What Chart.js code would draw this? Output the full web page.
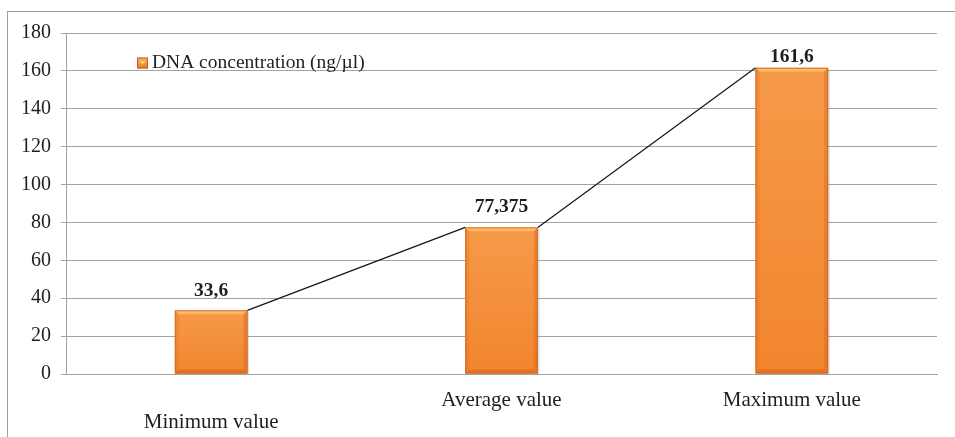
<!DOCTYPE html>
<html>
<head>
<meta charset="utf-8">
<title>DNA concentration</title>
<script src="https://cdn.jsdelivr.net/npm/chart.js@4.4.1/dist/chart.umd.min.js"></script>
<style>
  html, body { margin: 0; padding: 0; background: #ffffff; }
  #wrap { width: 955px; height: 437px; position: relative; }
</style>
</head>
<body>
<div id="wrap"><canvas id="chart" width="955" height="437"></canvas></div>
<script>
// Categories and measured values
const categories = ['Minimum value', 'Average value', 'Maximum value'];
const dnaConcentration = [33.6, 77.375, 161.6];
const seriesName = 'DNA concentration (ng/\u00b5l)';

// Value axis
const yMin = 0;
const yMax = 180;
const yStep = 20;

const SERIF = '"Liberation Serif", "Times New Roman", Times, serif';
const TEXT = '#1f1f1f';
const GRID = '#a3a3a3';

// Labels show the value with a decimal comma
const fmt = v => String(v).replace('.', ',');

// Light frame around the whole figure
const framePlugin = {
  id: 'frame',
  beforeDraw(chart) {
    const ctx = chart.ctx;
    ctx.save();
    ctx.strokeStyle = '#9c9c9c';
    ctx.lineWidth = 1;
    ctx.strokeRect(7.5, 11.5, 1200, 1200);
    ctx.restore();
  }
};

// Bevelled look on each bar
const bevelPlugin = {
  id: 'bevel',
  afterDatasetsDraw(chart) {
    const ctx = chart.ctx;
    const meta = chart.getDatasetMeta(0);
    meta.data.forEach(bar => {
      const p = bar.getProps(['x', 'y', 'base', 'width'], true);
      const L = p.x - p.width / 2, R = p.x + p.width / 2, T = p.y, B = p.base;
      const d = 4;
      ctx.save();
      // faint drop shadow on the right and bottom
      ctx.fillStyle = 'rgba(120,120,120,0.25)';
      ctx.fillRect(R, T + 2, 1.5, B - T - 1);
      // soft vertical shading
      const g = ctx.createLinearGradient(0, T, 0, B);
      g.addColorStop(0, '#f69a48');
      g.addColorStop(1, '#f1852f');
      ctx.fillStyle = g;
      ctx.fillRect(L, T, R - L, B - T);
      // top bevel
      ctx.beginPath();
      ctx.moveTo(L, T); ctx.lineTo(R, T); ctx.lineTo(R - d, T + d); ctx.lineTo(L + d, T + d); ctx.closePath();
      const gt = ctx.createLinearGradient(0, T, 0, T + d);
      gt.addColorStop(0, 'rgba(253,205,120,1)');
      gt.addColorStop(1, 'rgba(250,180,95,0.9)');
      ctx.fillStyle = gt;
      ctx.fill();
      // left bevel
      ctx.beginPath();
      ctx.moveTo(L, T); ctx.lineTo(L + d, T + d); ctx.lineTo(L + d, B - d); ctx.lineTo(L, B); ctx.closePath();
      ctx.fillStyle = 'rgba(232,115,35,0.35)';
      ctx.fill();
      // right bevel
      ctx.beginPath();
      ctx.moveTo(R, T); ctx.lineTo(R - d, T + d); ctx.lineTo(R - d, B - d); ctx.lineTo(R, B); ctx.closePath();
      ctx.fillStyle = 'rgba(220,100,25,0.4)';
      ctx.fill();
      // bottom bevel
      ctx.beginPath();
      ctx.moveTo(L, B); ctx.lineTo(L + d, B - d); ctx.lineTo(R - d, B - d); ctx.lineTo(R, B); ctx.closePath();
      ctx.fillStyle = 'rgba(215,100,25,0.55)';
      ctx.fill();
      // edge
      ctx.strokeStyle = 'rgba(205,105,40,0.85)';
      ctx.lineWidth = 1;
      ctx.strokeRect(L + 0.5, T + 0.5, R - L - 1, B - T - 1);
      ctx.restore();
    });
  }
};

// Series lines joining the tops of neighbouring bars
const seriesLinesPlugin = {
  id: 'seriesLines',
  afterDatasetsDraw(chart) {
    const ctx = chart.ctx;
    const bars = chart.getDatasetMeta(0).data;
    ctx.save();
    ctx.strokeStyle = '#151515';
    ctx.lineWidth = 1.2;
    ctx.beginPath();
    for (let i = 0; i < bars.length - 1; i++) {
      const a = bars[i].getProps(['x', 'y', 'width'], true);
      const b = bars[i + 1].getProps(['x', 'y', 'width'], true);
      ctx.moveTo(a.x + a.width / 2, a.y);
      ctx.lineTo(b.x - b.width / 2, b.y);
    }
    ctx.stroke();
    ctx.restore();
  }
};

// Bold value labels above the bars
const valueLabelPlugin = {
  id: 'valueLabels',
  afterDatasetsDraw(chart, args, opts) {
    const ctx = chart.ctx;
    const ds = chart.data.datasets[0];
    const bars = chart.getDatasetMeta(0).data;
    ctx.save();
    ctx.font = 'bold 19.5px ' + SERIF;
    ctx.fillStyle = TEXT;
    ctx.textAlign = 'center';
    ctx.textBaseline = 'middle';
    bars.forEach((bar, i) => {
      const p = bar.getProps(['x', 'y'], true);
      ctx.fillText(fmt(ds.data[i]), p.x, p.y - opts.gaps[i]);
    });
    ctx.restore();
  }
};

// Legend entry inside the plot area
const legendPlugin = {
  id: 'innerLegend',
  afterDraw(chart, args, opts) {
    const ctx = chart.ctx;
    const area = chart.chartArea;
    const x = area.left + opts.dx, y = area.top + opts.dy;
    ctx.save();
    const g = ctx.createLinearGradient(0, y - 5.5, 0, y + 5.5);
    g.addColorStop(0, '#f9b260');
    g.addColorStop(1, '#ec7a25');
    ctx.fillStyle = g;
    ctx.fillRect(x, y - 5.5, 11, 11);
    ctx.fillStyle = 'rgba(255,215,130,0.9)';
    ctx.beginPath();
    ctx.moveTo(x + 2.5, y - 2); ctx.lineTo(x + 8.5, y - 2); ctx.lineTo(x + 5.5, y + 1.5); ctx.closePath();
    ctx.fill();
    ctx.strokeStyle = 'rgba(190,90,30,0.9)';
    ctx.lineWidth = 1;
    ctx.strokeRect(x + 0.5, y - 5, 10, 10);
    ctx.font = '19.5px ' + SERIF;
    ctx.fillStyle = TEXT;
    ctx.textAlign = 'left';
    ctx.textBaseline = 'middle';
    ctx.fillText(seriesName, x + 15, y);
    ctx.restore();
  }
};

new Chart(document.getElementById('chart'), {
  type: 'bar',
  data: {
    labels: categories,
    datasets: [{
      label: seriesName,
      data: dnaConcentration,
      backgroundColor: '#f49140',
      borderWidth: 0,
      barPercentage: 0.25,
      categoryPercentage: 1
    }]
  },
  options: {
    responsive: false,
    animation: false,
    devicePixelRatio: 1,
    layout: { padding: { left: 0, right: 18, top: 33, bottom: 0 } },
    plugins: {
      legend: { display: false },
      tooltip: { enabled: false },
      valueLabels: { gaps: [19, 20, 11] },
      innerLegend: { dx: 71, dy: 30 }
    },
    scales: {
      x: {
        grid: { display: false, drawTicks: false },
        border: { display: true, color: GRID, width: 1 },
        ticks: {
          color: TEXT,
          padding: 15,
          font: { family: SERIF, size: 21, lineHeight: 1.05 },
          maxRotation: 0,
          autoSkip: false,
          // the first category label sits one line lower
          callback: (v, i) => (i === 0 ? ['', categories[i]] : categories[i])
        },
        afterFit: s => { s.height = 63; }
      },
      y: {
        min: yMin,
        max: yMax,
        grid: { color: GRID, lineWidth: 1, tickLength: 5 },
        border: { display: true, color: GRID, width: 1 },
        ticks: {
          stepSize: yStep,
          color: TEXT,
          padding: 10,
          font: { family: SERIF, size: 20 }
        },
        afterFit: s => { s.width = 66; }
      }
    }
  },
  plugins: [framePlugin, bevelPlugin, seriesLinesPlugin, valueLabelPlugin, legendPlugin]
});
</script>
</body>
</html>
